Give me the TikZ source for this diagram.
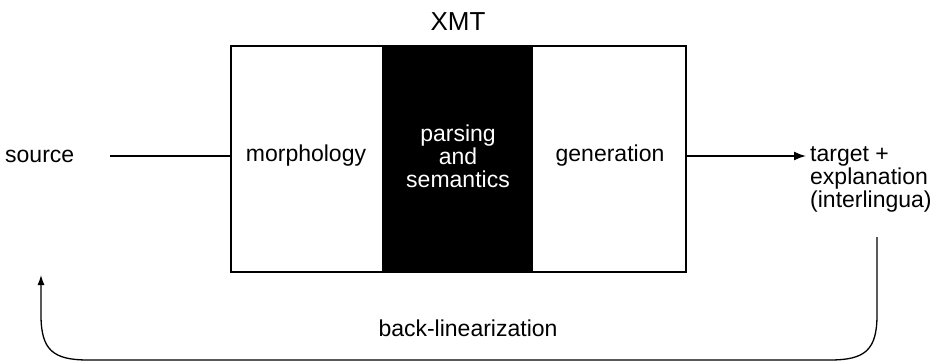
\documentclass[tikz,border=0pt]{standalone}
\usepackage{fontspec}
\setmainfont{Liberation Sans}
\usetikzlibrary{arrows.meta}
\begin{document}
\begin{tikzpicture}[x=1pt,y=-1pt,
  lbl/.style={font=\fontsize{23}{23}\selectfont, inner sep=0pt},
  conn/.style={line width=1.6pt},
  boxline/.style={line width=1.8pt}]
\useasboundingbox (0,0) rectangle (948,364);
% middle black part
\node[fill=black, minimum width=151pt, minimum height=226pt, inner sep=0pt] (mid) at (457.5,159) {};
% outer box
\node[draw, boxline, minimum width=455pt, minimum height=226pt, inner sep=0pt] (box) at (458.5,159) {};
\node[lbl, font=\fontsize{26}{26}\selectfont] (xmt) at (458,22) {XMT};
\node[lbl, anchor=west] (src) at (5,156) {source};
\node[lbl] (morph) at (306,156) {morphology};
\node[lbl, text=white, align=center] (pars) at (458,156) {parsing\\and\\semantics};
\node[lbl] (gen) at (610,156) {generation};
\node[lbl, anchor=west, align=left] (tgt) at (810,179) {target +\\explanation\\(interlingua)};
\node[lbl] (back) at (468,328) {back-linearization};
\coordinate (srcend) at (110,156);
\coordinate (tip) at (806,156);
\coordinate (loopR) at (877,237);
\coordinate (loopL) at (41,275);
\draw[conn] (srcend) -- (box.west |- srcend);
\draw[conn, -{Latex[length=12pt,width=9pt]}] (box.east |- tip) -- (tip);
\draw[conn, line width=1.3pt, -{Latex[length=10pt,width=7pt]}] (loopR) -- (877,315) .. controls (877,350) and (865,360) .. (830,360) -- (88,360) .. controls (53,360) and (41,350) .. (41,315) -- (loopL);
\end{tikzpicture}
\end{document}
